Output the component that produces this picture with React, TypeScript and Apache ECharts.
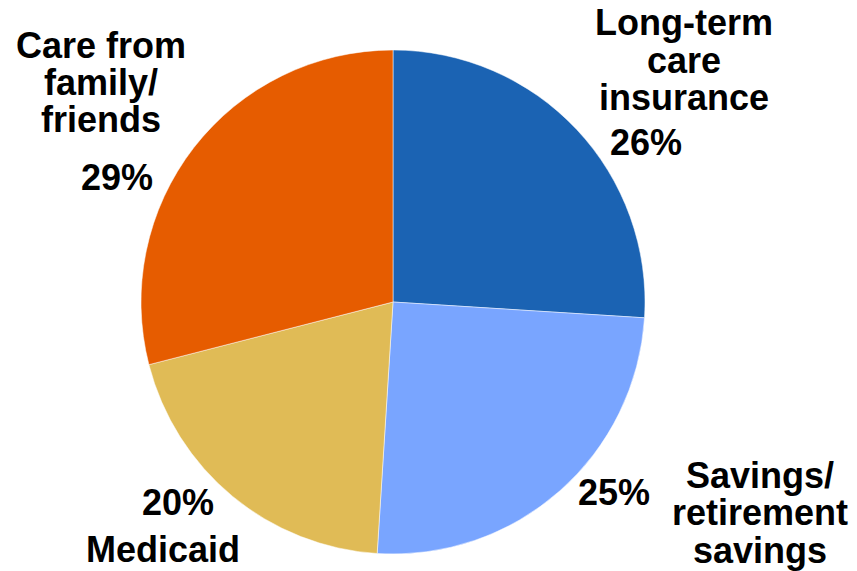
import React, { useEffect, useRef } from "react";
import * as echarts from "echarts";

const categories = [
  "Long-term\ncare\ninsurance",
  "Savings/\nretirement\nsavings",
  "Medicaid",
  "Care from\nfamily/\nfriends",
];
const values = [26, 25, 20, 29];
const colors = ["#1b63b3", "#79a5ff", "#e0bb56", "#e65c00"];

// label anchor layout (x center, first baseline, line height) and percent anchors
const nameLayout = [
  { x: 684, y: 35, lh: 37.5 },
  { x: 760, y: 487.5, lh: 37.5 },
  { x: 163, y: 562, lh: 37 },
  { x: 101, y: 57.5, lh: 37 },
];
const pctLayout = [
  { x: 646, y: 155 },
  { x: 614, y: 505 },
  { x: 178, y: 515 },
  { x: 117, y: 190 },
];

const FONT = 'bold 36px "Liberation Sans", Arial, sans-serif';
const BASE_SHIFT = 12.5;

export default function App() {
  const ref = useRef<HTMLDivElement>(null);
  useEffect(() => {
    if (!ref.current) return;
    const chart = echarts.init(ref.current, undefined, { renderer: "svg" });
    const graphics: any[] = [];
    categories.forEach((name, i) => {
      const nl = nameLayout[i];
      graphics.push({
        type: "text",
        x: nl.x,
        y: nl.y - BASE_SHIFT - nl.lh / 2,
        style: {
          text: name,
          font: FONT,
          lineHeight: nl.lh,
          fill: "#000",
          align: "center",
          verticalAlign: "top",
        },
      });
      const pl = pctLayout[i];
      graphics.push({
        type: "text",
        x: pl.x,
        y: pl.y - BASE_SHIFT,
        style: {
          text: `${values[i]}%`,
          font: FONT,
          fill: "#000",
          align: "center",
          verticalAlign: "middle",
        },
      });
    });
    chart.setOption({
      animation: false,
      backgroundColor: "#ffffff",
      series: [
        {
          type: "pie",
          center: [393, 302],
          radius: 252,
          startAngle: 90,
          clockwise: true,
          label: { show: false },
          labelLine: { show: false },
          itemStyle: { borderColor: "#ffffff", borderWidth: 0.5 },
          emphasis: { disabled: true },
          data: categories.map((c, i) => ({
            name: c,
            value: values[i],
            itemStyle: { color: colors[i] },
          })),
        },
      ],
      graphic: graphics,
    });
    return () => chart.dispose();
  }, []);
  return (
    <div
      ref={ref}
      style={{ position: "absolute", left: 0, top: 0, width: 857, height: 571 }}
    />
  );
}
